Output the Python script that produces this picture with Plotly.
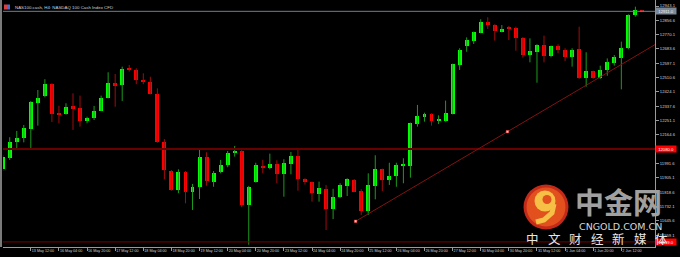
import plotly.graph_objects as go

# ---------------- data ----------------
opens = [11957, 12027, 12120, 12146, 12201, 12359, 12400, 12471, 12295, 12291,
         12338, 12329, 12249, 12269, 12311, 12388, 12477, 12466, 12565, 12559,
         12498, 12486, 12412, 12122, 11949, 11833, 11943, 11820, 11851, 12034,
         11883, 11939, 11985, 12056, 12068, 11742, 11881, 11979, 11967, 11991,
         11927, 11991, 12040, 11897, 11879, 11810, 11840, 11718, 11790, 11858,
         11895, 11828, 11708, 11858, 11957, 11895, 11917, 11982, 11976, 12231,
         12275, 12291, 12253, 12251, 12293, 12587, 12704, 12732, 12782, 12848,
         12828, 12792, 12818, 12812, 12752, 12647, 12667, 12708, 12641, 12702,
         12678, 12637, 12682, 12507, 12551, 12507, 12555, 12597, 12631, 12688,
         12889, 12916]
highs = [12044, 12151, 12189, 12225, 12370, 12436, 12501, 12477, 12341, 12356,
         12416, 12402, 12275, 12340, 12402, 12543, 12533, 12577, 12587, 12567,
         12537, 12516, 12446, 12140, 11953, 11957, 11947, 11869, 12080, 12060,
         11947, 12014, 12068, 12098, 12074, 11857, 11997, 12015, 12052, 12012,
         12018, 12062, 12078, 11903, 11883, 11883, 11863, 11840, 11873, 11903,
         11899, 11837, 11933, 12042, 11961, 11997, 11997, 12024, 12239, 12346,
         12299, 12295, 12283, 12372, 12595, 12688, 12754, 12788, 12863, 12875,
         12833, 12828, 12822, 12818, 12756, 12748, 12712, 12764, 12704, 12712,
         12688, 12688, 12818, 12664, 12553, 12583, 12627, 12647, 12728, 12893,
         12939, 12919]
lows = [11947, 12014, 12074, 12120, 12074, 12221, 12392, 12243, 12235, 12287,
        12195, 12215, 12235, 12255, 12309, 12386, 12335, 12370, 12547, 12471,
        12471, 12410, 12118, 11897, 11828, 11813, 11752, 11712, 11778, 11858,
        11852, 11933, 11970, 12034, 11728, 11502, 11877, 11933, 11957, 11873,
        11792, 11927, 11828, 11865, 11762, 11762, 11591, 11657, 11786, 11796,
        11820, 11682, 11682, 11776, 11826, 11863, 11852, 11873, 11907, 12215,
        12245, 12221, 12231, 12245, 12289, 12557, 12667, 12714, 12778, 12804,
        12734, 12784, 12738, 12673, 12631, 12603, 12480, 12603, 12633, 12658,
        12611, 12577, 12503, 12456, 12504, 12503, 12522, 12583, 12440, 12682,
        12879, 12909]
closes = [12030, 12120, 12146, 12205, 12364, 12386, 12471, 12291, 12289, 12335,
          12327, 12249, 12269, 12309, 12390, 12477, 12466, 12563, 12557, 12498,
          12486, 12412, 12120, 11951, 11833, 11943, 11822, 11852, 12034, 11887,
          11937, 11985, 12056, 12066, 11742, 11849, 11982, 11967, 11991, 11929,
          11995, 12040, 11897, 11881, 11813, 11843, 11718, 11790, 11863, 11897,
          11822, 11708, 11863, 11957, 11895, 11915, 11982, 11984, 12235, 12279,
          12293, 12251, 12256, 12295, 12591, 12678, 12738, 12784, 12848, 12828,
          12792, 12804, 12808, 12748, 12647, 12673, 12708, 12641, 12702, 12678,
          12637, 12678, 12507, 12551, 12507, 12557, 12603, 12633, 12691, 12889,
          12919, 12911]
bar_index = list(range(len(opens)))

time_tick_bars = [0, 4, 8, 12, 16, 20, 24, 28, 32, 36, 40, 44, 48, 52, 56, 60,
                  64, 68, 72, 76, 80, 84, 88]
time_tick_labels = ["12 May 2022", "13 May 12:00", "16 May 04:00", "16 May 20:00",
                    "17 May 12:00", "18 May 04:00", "18 May 20:00", "19 May 12:00",
                    "20 May 04:00", "20 May 20:00", "23 May 12:00", "24 May 04:00",
                    "24 May 20:00", "25 May 12:00", "26 May 04:00", "26 May 20:00",
                    "27 May 12:00", "30 May 04:00", "30 May 20:00", "31 May 12:00",
                    "1 Jun 04:00", "1 Jun 20:00", "2 Jun 12:00"]
# 12078.1 sits under the red level box in the reference, so it is not shown
price_ticks = [11559.1, 11645.6, 11732.1, 11818.6, 11905.1, 11991.6,
               12164.6, 12251.1, 12337.6, 12424.1, 12510.6, 12597.1, 12683.6,
               12770.1, 12856.6, 12943.1]
price_tick_labels = ["11559.1", "11645.6", "11732.1", "11818.6", "11905.1",
                     "11991.6", "12164.6", "12251.1", "12337.6",
                     "12424.1", "12510.6", "12597.1", "12683.6", "12770.1",
                     "12856.6", "12943.1"]

bid_price = 12911.0
hline_levels = [12080.0, 11519.0]
trend_bars = [50.2, 71.8]
trend_prices = [11643.6, 12184.4]

title_text = "NAS100.cash, H4: NASDAQ 100 Cash Index CFD"

# ---------------- layout geometry ----------------
W, H = 680, 257
PL, PR, PT, PB = 3, 655, 0, 247          # plot area in pixels
X_RANGE = [0.043, 92.79]
Y_RANGE = [11488.4, 12979.3]

def px_x(px):
    return (px - PL) / (PR - PL)

def px_y(py):
    return 1 - (py - PT) / (PB - PT)

UP_BODY, DN_BODY = "#00ff00", "#ff0000"
UP_WICK, DN_WICK = "#1c9a1c", "#a00c0c"
MIN_BODY = 6

fig = go.Figure()

# wicks
for up, col in ((True, UP_WICK), (False, DN_WICK)):
    wx, wy = [], []
    for i in bar_index:
        if (closes[i] >= opens[i]) == up:
            wx += [i, i, None]
            wy += [lows[i], highs[i], None]
    fig.add_trace(go.Scatter(x=wx, y=wy, mode="lines",
                             line=dict(color=col, width=1),
                             hoverinfo="skip", showlegend=False))

# bodies
for up, col in ((True, UP_BODY), (False, DN_BODY)):
    bx, bb, bh = [], [], []
    for i in bar_index:
        if (closes[i] >= opens[i]) == up:
            lo = min(opens[i], closes[i])
            hgt = abs(closes[i] - opens[i])
            if hgt < MIN_BODY:
                lo -= (MIN_BODY - hgt) / 2
                hgt = MIN_BODY
            bx.append(i)
            bb.append(lo)
            bh.append(hgt)
    fig.add_trace(go.Bar(x=bx, y=bh, base=bb, width=0.56,
                         marker=dict(color=col, line=dict(width=0)),
                         hoverinfo="skip", showlegend=False))

# bid line
fig.add_trace(go.Scatter(x=X_RANGE, y=[bid_price, bid_price], mode="lines",
                         line=dict(color="#6f7f8f", width=1),
                         hoverinfo="skip", showlegend=False))
# horizontal red levels
fig.add_trace(go.Scatter(x=X_RANGE, y=[hline_levels[0]] * 2, mode="lines",
                         line=dict(color="#680000", width=2),
                         hoverinfo="skip", showlegend=False))
fig.add_trace(go.Scatter(x=X_RANGE, y=[hline_levels[1]] * 2, mode="lines",
                         line=dict(color="#7a0000", width=1),
                         hoverinfo="skip", showlegend=False))

# trend ray
slope = (trend_prices[1] - trend_prices[0]) / (trend_bars[1] - trend_bars[0])
ray_x = [trend_bars[0], X_RANGE[1]]
ray_y = [trend_prices[0], trend_prices[0] + slope * (X_RANGE[1] - trend_bars[0])]
fig.add_trace(go.Scatter(x=ray_x, y=ray_y, mode="lines",
                         line=dict(color="#841212", width=1),
                         hoverinfo="skip", showlegend=False))
fig.add_trace(go.Scatter(x=trend_bars, y=trend_prices, mode="markers",
                         marker=dict(symbol="square", size=2.5, color="#ffc8c8",
                                     line=dict(color="#ff3030", width=0.5)),
                         hoverinfo="skip", showlegend=False))

AX_COL = "#9a9a9a"
TXT_COL = "#d2d2d2"
FONT = "Liberation Sans"

fig.update_layout(
    width=W, height=H,
    margin=dict(l=PL, r=W - PR, t=PT, b=H - PB, pad=0),
    paper_bgcolor="#000000", plot_bgcolor="#000000",
    barmode="overlay", bargap=0, showlegend=False,
    xaxis=dict(range=X_RANGE, showgrid=False, zeroline=False,
               showline=True, linecolor=AX_COL, linewidth=1,
               tickmode="array", tickvals=time_tick_bars, ticktext=time_tick_labels,
               ticks="outside", ticklen=3, tickcolor=AX_COL, tickwidth=1,
               tickangle=0, ticklabelposition="outside right",
               tickfont=dict(family=FONT, size=3.7, color=TXT_COL)),
    yaxis=dict(range=Y_RANGE, side="right", showgrid=False, zeroline=False,
               showline=True, linecolor=AX_COL, linewidth=1,
               tickmode="array", tickvals=price_ticks, ticktext=price_tick_labels,
               ticks="outside", ticklen=3, tickcolor=AX_COL, tickwidth=1,
               tickfont=dict(family=FONT, size=4.2, color=TXT_COL)),
)

shapes = []
annotations = []

# left window frame
shapes.append(dict(type="line", xref="paper", yref="paper",
                   x0=px_x(1), x1=px_x(1), y0=0, y1=1,
                   line=dict(color="#7a7a7a", width=2)))

# title icon + title
shapes.append(dict(type="rect", xref="paper", yref="paper",
                   x0=px_x(4), x1=px_x(7), y0=px_y(9.5), y1=px_y(4.5),
                   fillcolor="#d84040", line=dict(width=0)))
shapes.append(dict(type="rect", xref="paper", yref="paper",
                   x0=px_x(7), x1=px_x(10), y0=px_y(9.5), y1=px_y(4.5),
                   fillcolor="#4a6ad0", line=dict(width=0)))
annotations.append(dict(xref="paper", yref="paper", x=px_x(12.5), y=px_y(7),
                        xanchor="left", yanchor="middle", showarrow=False,
                        text=title_text,
                        font=dict(family=FONT, size=4.4, color=TXT_COL)))

# price boxes on the right axis
box_specs = [(bid_price, "#7a8898", "#f0f0f0"),
             (hline_levels[0], "#ff0000", "#ffffff"),
             (hline_levels[1], "#ff0000", "#ffffff")]
for val, bg, fc in box_specs:
    annotations.append(dict(xref="paper", yref="y", x=1, y=val,
                            xanchor="left", yanchor="middle", showarrow=False,
                            text=f"{val:.1f}", bgcolor=bg, borderpad=0.6,
                            width=19, align="center",
                            font=dict(family=FONT, size=4.2, color=fc)))

# ---- watermark logo ----
def circle(cx, cy, r, color):
    return dict(type="circle", xref="paper", yref="paper",
                x0=px_x(cx - r), x1=px_x(cx + r),
                y0=px_y(cy + r), y1=px_y(cy - r),
                fillcolor=color, line=dict(width=0))

shapes.append(circle(546, 207, 22.5, "#c32a1a"))
shapes.append(circle(546, 207, 19.5, "#e2501e"))
shapes.append(circle(545, 201, 10.5, "#f6c046"))
shapes.append(circle(547, 199.5, 4.5, "#e2501e"))
tail = [(554, 204), (552, 213), (544, 220), (536, 222)]
path = "M " + " L ".join(f"{px_x(a)},{px_y(b)}" for a, b in tail)
shapes.append(dict(type="path", xref="paper", yref="paper", path=path,
                   line=dict(color="#f6c046", width=5)))

annotations.append(dict(xref="paper", yref="paper", x=px_x(573), y=px_y(201),
                        xanchor="left", yanchor="middle", showarrow=False,
                        text="<b>中金网</b>",
                        font=dict(family="Noto Sans CJK SC", size=29, color="#a0a0a0")))
annotations.append(dict(xref="paper", yref="paper", x=px_x(620), y=px_y(226),
                        xanchor="center", yanchor="middle", showarrow=False,
                        text="CNGOLD.COM.CN",
                        font=dict(family="DejaVu Sans", size=9.5, color="#d8d8d8")))
slogan_chars = ["中", "文", "财", "经", "新", "媒", "体"]
for j, ch in enumerate(slogan_chars):
    annotations.append(dict(xref="paper", yref="paper",
                            x=px_x(532.5 + j * 21.5), y=px_y(238.5),
                            xanchor="center", yanchor="middle", showarrow=False,
                            text=ch,
                            font=dict(family="Noto Sans CJK SC", size=12.5, color="#e6e6e6")))

fig.update_layout(shapes=shapes, annotations=annotations)

fig.write_html("out.html")
